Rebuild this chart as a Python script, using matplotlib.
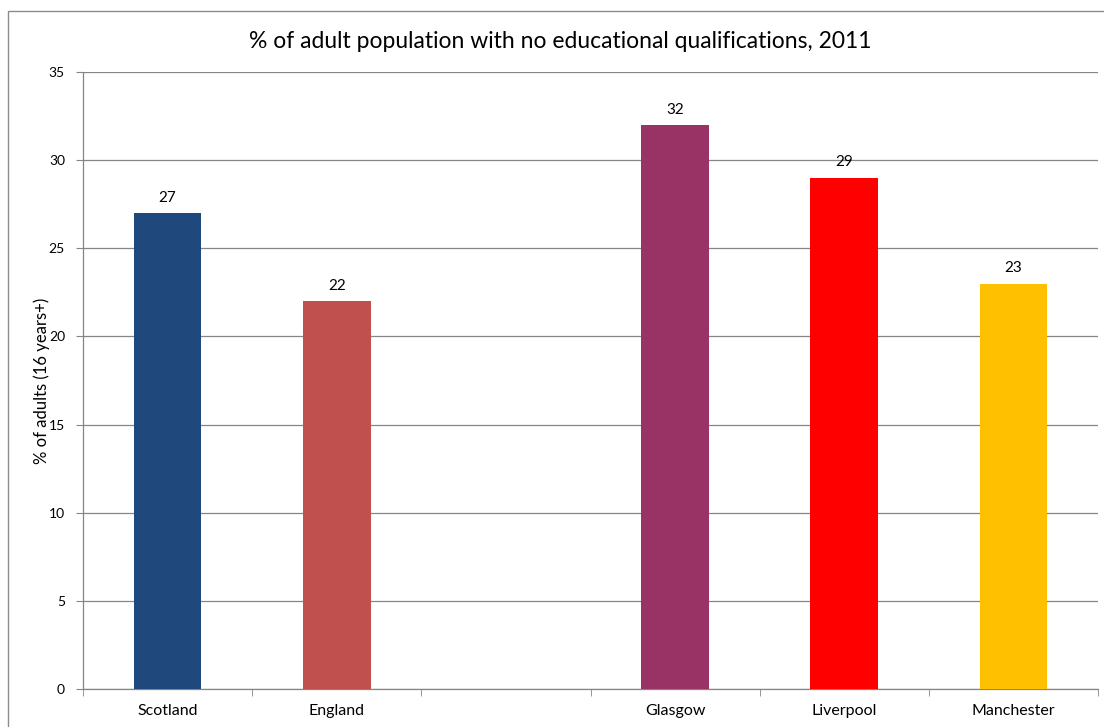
import matplotlib
matplotlib.use("Agg")
import matplotlib.pyplot as plt
from matplotlib.patches import Rectangle
import numpy as np

plt.rcParams['font.family'] = ['Lato', 'DejaVu Sans']

categories = ["Scotland", "England", "", "Glasgow", "Liverpool", "Manchester"]
values = [27, 22, None, 32, 29, 23]
colors = ["#1F497D", "#C0504D", None, "#993366", "#FF0000", "#FFC000"]
yticks = [0, 5, 10, 15, 20, 25, 30, 35]
title = "% of adult population with no educational qualifications, 2011"
ylabel = "% of adults (16 years+)"

fig = plt.figure(figsize=(11.04, 7.27), dpi=100)
W, H = 1104, 727
# outer chart frame (cropped at right and bottom)
fig.patches.append(Rectangle((8 / W, -0.1), 1.2, 1 - 11 / H + 0.1, transform=fig.transFigure,
                             fill=False, edgecolor="#8C8C8C", linewidth=1.0))

ax = fig.add_axes([83 / W, 1 - 689 / H, (1098 - 83) / W, (689 - 72) / H])
x = np.arange(len(categories))
for xi, v, c in zip(x, values, colors):
    if v is None:
        continue
    ax.bar(xi, v, width=0.4, color=c, zorder=3)
    ax.annotate(str(v), (xi, v), xytext=(0, 6), textcoords="offset points",
                ha="center", va="bottom", fontsize=11, color="#000000")

ax.set_xlim(-0.5, len(categories) - 0.5)
ax.set_ylim(0, 35)
ax.set_yticks(yticks)
ax.set_yticklabels([str(t) for t in yticks], fontsize=10)
ax.set_xticks(x)
ax.set_xticklabels(categories, fontsize=11.5)
ax.set_xticks(np.arange(-0.5, len(categories)), minor=True)
ax.tick_params(axis="x", which="major", length=0, pad=11)
ax.tick_params(axis="x", which="minor", length=5, color="#868686", direction="out")
ax.tick_params(axis="y", length=5, color="#868686", direction="out", pad=8)
ax.grid(axis="y", color="#868686", linewidth=0.9, zorder=0)
for s in ["top", "right"]:
    ax.spines[s].set_visible(False)
for s in ["left", "bottom"]:
    ax.spines[s].set_color("#868686")
    ax.spines[s].set_linewidth(0.9)
ax.set_axisbelow(True)

ax.set_ylabel(ylabel, fontsize=12, labelpad=0)
ax.yaxis.set_label_coords((50 - 83) / (1098 - 83), 0.5)
fig.text(560 / W, 1 - 41 / H, title, ha="center", va="center", fontsize=16.5)

fig.savefig("out.png", dpi=100)
